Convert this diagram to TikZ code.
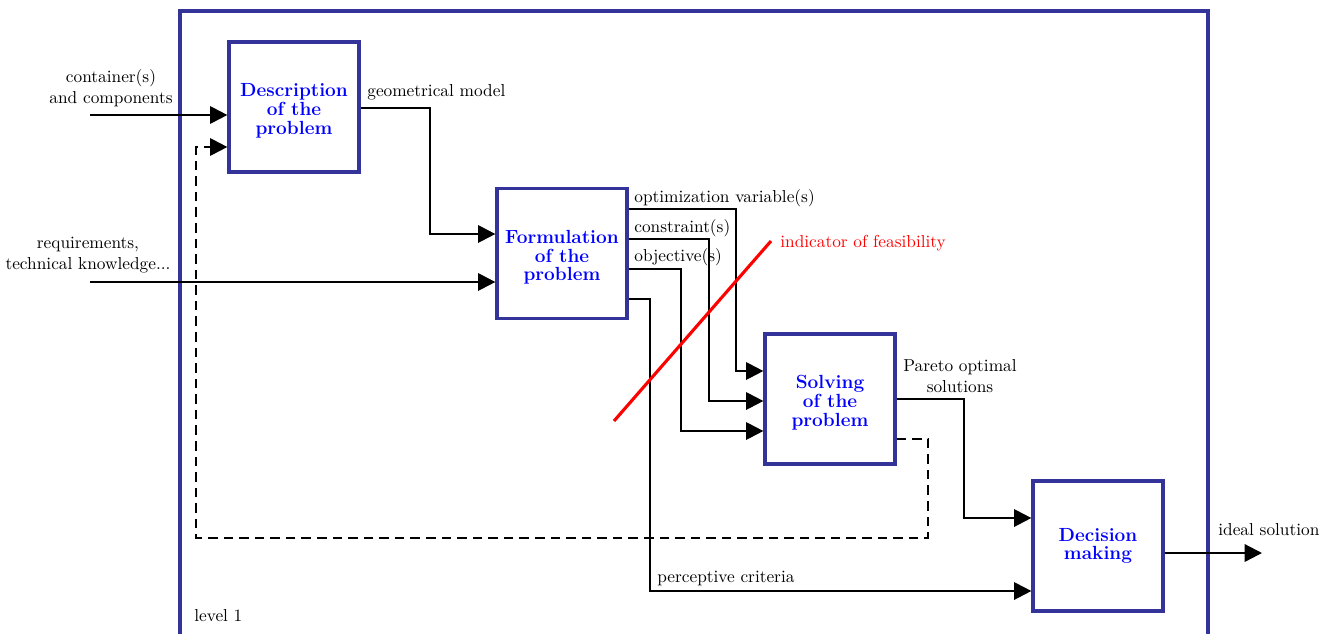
\documentclass[tikz,border=0pt]{standalone}
\usetikzlibrary{arrows.meta}
\definecolor{framecol}{RGB}{51,51,153}
\definecolor{txtblue}{RGB}{0,0,255}
\definecolor{feasred}{RGB}{255,0,0}
\begin{document}
\begin{tikzpicture}[x=0.578pt,y=-0.578pt,
  procbox/.style={draw=framecol,line width=2pt,minimum width=75pt,minimum height=75pt,
    inner sep=0pt,align=center,text=txtblue,font=\fontsize{11}{10.8}\selectfont\bfseries},
  conn/.style={line width=1.3pt,-{Triangle[length=10pt,width=10pt]}},
  fb/.style={line width=1.3pt,dash pattern=on 5.5pt off 3.5pt,-{Triangle[length=10pt,width=10pt]}},
  lbl/.style={inner sep=0pt,font=\normalsize},
]
\useasboundingbox (0,0) rectangle (1332,633);
% frame
\draw[framecol,line width=2.3pt] (180,11) rectangle (1208,680);
% boxes
\node[procbox] (desc) at (294,107) {\rule{0pt}{12pt}Description\\of the\\problem};
\node[procbox] (form) at (562,253.5) {\rule{0pt}{12pt}Formulation\\of the\\problem};
\node[procbox] (solve) at (830,399) {\rule{0pt}{12pt}Solving\\of the\\problem};
\node[procbox,font=\fontsize{11}{10}\selectfont\bfseries] (dec) at (1098,546) {Decision\\making};
% coordinates
\coordinate (c0) at (90,115);
\coordinate (r0) at (90,282);
\coordinate (g1) at (430,108);
\coordinate (g2) at (430,234);
\coordinate (ov1) at (736,209);
\coordinate (ov2) at (736,371);
\coordinate (cs1) at (709,239);
\coordinate (cs2) at (709,401);
\coordinate (ob1) at (681,269);
\coordinate (ob2) at (681,431);
\coordinate (pc1) at (650,299);
\coordinate (pc2) at (650,591);
\coordinate (pa1) at (964,399);
\coordinate (pa2) at (964,518);
\coordinate (id) at (1262,553);
\coordinate (d1) at (928,439);
\coordinate (d2) at (928,538);
\coordinate (d3) at (196,538);
\coordinate (d4) at (196,147);
\coordinate (f1) at (614,421);
\coordinate (f2) at (771,241);
% connectors
\draw[conn] (c0) -- (desc.west |- c0);
\draw[conn] (r0) -- (form.west |- r0);
\draw[conn] (desc.east |- g1) -- (g1) -- (g2) -- (form.west |- g2);
\draw[conn] (form.east |- ov1) -- (ov1) -- (ov2) -- (solve.west |- ov2);
\draw[conn] (form.east |- cs1) -- (cs1) -- (cs2) -- (solve.west |- cs2);
\draw[conn] (form.east |- ob1) -- (ob1) -- (ob2) -- (solve.west |- ob2);
\draw[conn] (form.east |- pc1) -- (pc1) -- (pc2) -- (dec.west |- pc2);
\draw[conn] (solve.east |- pa1) -- (pa1) -- (pa2) -- (dec.west |- pa2);
\draw[conn] (dec.east |- id) -- (id);
\draw[fb] (solve.east |- d1) -- (d1) -- (d2) -- (d3) -- (d4) -- (desc.west |- d4);
\draw[feasred,line width=1.8pt] (f1) -- (f2);
% labels
\node[lbl,align=center] (lc) at (111,88) {container(s)\\and components};
\node[lbl,align=center] (lr) at (88,255) {requirements,\\technical knowledge...};
\node[lbl,anchor=base west] (lg) at (367,96) {geometrical model};
\node[lbl,anchor=base west] (lov) at (634,202) {optimization variable(s)};
\node[lbl,anchor=base west] (lcs) at (634,232) {constraint(s)};
\node[lbl,anchor=base west] (lob) at (634,261) {objective(s)};
\node[lbl,anchor=base west,text=feasred] (lf) at (780,247) {indicator of feasibility};
\node[lbl,align=center] (lp) at (960,376) {Pareto optimal\\solutions};
\node[lbl,anchor=base west] (li) at (1218,535) {ideal solution};
\node[lbl,anchor=base west] (lpc) at (657,582) {perceptive criteria};
\node[lbl,anchor=base west] (ll) at (194,621) {level 1};
\end{tikzpicture}
\end{document}
